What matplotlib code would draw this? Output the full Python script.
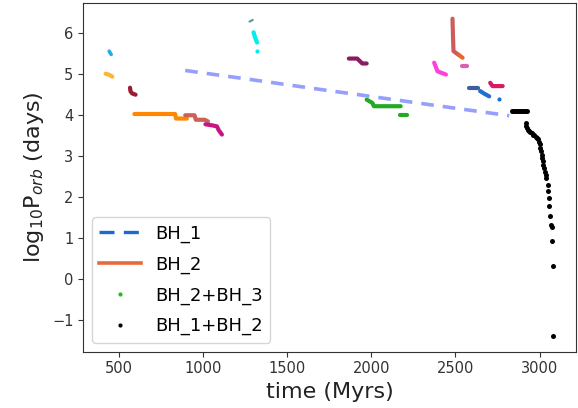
import matplotlib
matplotlib.use('Agg')
import matplotlib.pyplot as plt
from matplotlib.lines import Line2D

# ---- data (time in Myr, log10 P_orb in days) ----
# BH_1 + companion, long dashed track
bh1_t = [895, 1300, 1729, 1908, 2414, 2820]
bh1_p = [5.08, 4.85, 4.60, 4.50, 4.21, 3.98]

# short coloured pieces
sky_t = [443, 455]
sky_p = [5.55, 5.47]

gold_t = [422, 440, 462]
gold_p = [5.00, 4.98, 4.93]

darkred_t = [567, 570, 580, 600]
darkred_p = [4.66, 4.57, 4.52, 4.49]

orange_t = [593, 700, 800, 835, 840, 905]
orange_p = [4.02, 4.02, 4.02, 4.02, 3.91, 3.91]

brown_t = [895, 950, 958, 1010, 1030]
brown_p = [3.99, 3.99, 3.88, 3.88, 3.84]

violet_t = [1015, 1060, 1083, 1095, 1113]
violet_p = [3.77, 3.74, 3.72, 3.62, 3.52]

teal_t = [1277, 1296]
teal_p = [6.27, 6.31]

cyan_t = [1301, 1310, 1322]
cyan_p = [6.01, 5.88, 5.76]
cyan_dot_t = [1322]
cyan_dot_p = [5.55]

purple_t = [1867, 1917, 1947, 1973]
purple_p = [5.37, 5.37, 5.25, 5.25]

green_t = [1973, 2007, 2016, 2100, 2175]
green_p = [4.37, 4.29, 4.21, 4.21, 4.21]
green2_t = [2170, 2212]
green2_p = [3.99, 3.99]

pink_t = [2374, 2394, 2444]
pink_p = [5.27, 5.06, 4.98]

salmon_t = [2483, 2486, 2489, 2523]
salmon_p = [6.34, 5.90, 5.55, 5.45]
tomato_t = [2523, 2543]
tomato_p = [5.45, 5.39]

orchid_t = [2537, 2572]
orchid_p = [5.19, 5.19]

slate_t = [2582, 2636]
slate_p = [4.66, 4.66]

blue_t = [2647, 2670, 2701]
blue_p = [4.58, 4.52, 4.45]
blue_dot_t = [2760]
blue_dot_p = [4.39]

crimson_t = [2707, 2721, 2781]
crimson_p = [4.78, 4.70, 4.70]

# BH_1 + BH_2 binary
bh12_t = [2835, 2845, 2855, 2865, 2875, 2885, 2895, 2905, 2915, 2924,
          2919, 2921, 2926, 2932, 2938, 2945, 2953, 2961, 2969, 2978,
          2987, 2993, 2996, 3001, 3005, 3009, 3012, 3015, 3019, 3023,
          3028, 3033, 3037, 3041, 3049, 3052, 3057, 3058, 3064, 3068,
          3076, 3072, 3082, 3082]
bh12_p = [4.09, 4.09, 4.09, 4.09, 4.09, 4.09, 4.09, 4.09, 4.09, 4.09,
          3.80, 3.74, 3.68, 3.64, 3.61, 3.58, 3.55, 3.52, 3.50, 3.47,
          3.44, 3.41, 3.35, 3.28, 3.20, 3.11, 3.03, 2.95, 2.87, 2.79,
          2.70, 2.62, 2.54, 2.46, 2.30, 2.14, 1.98, 1.77, 1.53, 1.32,
          1.26, 0.94, 0.31, -1.38]

# pieces drawn as thick lines, with their colours
pieces = [
    (sky_t, sky_p, '#29abe2', 2.6),
    (gold_t, gold_p, '#fbb731', 3),
    (darkred_t, darkred_p, '#9b1b30', 3),
    (orange_t, orange_p, '#ff8800', 3),
    (brown_t, brown_p, '#cd6155', 3),
    (violet_t, violet_p, '#c71585', 3),
    (teal_t, teal_p, '#5f9ea0', 1.6),
    (cyan_t, cyan_p, '#00eeee', 3),
    (purple_t, purple_p, '#8b1c62', 3),
    (green_t, green_p, '#22aa22', 3),
    (green2_t, green2_p, '#22aa22', 3),
    (pink_t, pink_p, '#ff40dd', 3),
    (salmon_t, salmon_p, '#cd5c5c', 3),
    (tomato_t, tomato_p, '#e8682a', 3),
    (orchid_t, orchid_p, '#d862b0', 3),
    (slate_t, slate_p, '#3f5e9e', 3),
    (blue_t, blue_p, '#1e6fd0', 3),
    (crimson_t, crimson_p, '#d81b60', 3),
]
dots = [
    (cyan_dot_t, cyan_dot_p, '#00eeee'),
    (blue_dot_t, blue_dot_p, '#1e6fd0'),
]

fig = plt.figure(figsize=(5.78, 4.08), dpi=100)
ax = fig.add_axes([0.144, 0.138, 0.852, 0.855])

ax.plot(bh1_t, bh1_p, color='#96a0fa', lw=2.6, dashes=(3.5, 2.5))
for t, p, c, w in pieces:
    ax.plot(t, p, color=c, lw=w, solid_capstyle='round', solid_joinstyle='round')
for t, p, c in dots:
    ax.plot(t, p, 'o', color=c, ms=3, mew=0)
ax.plot(bh12_t, bh12_p, 'o', color='k', ms=3.6, mew=0)

# legend proxies
handles = [
    Line2D([], [], color='#1a6ad6', lw=2.4, dashes=(4.5, 2.8)),
    Line2D([], [], color='#e8693e', lw=2.6),
    Line2D([], [], ls='', marker='.', ms=4, color='#22bb22'),
    Line2D([], [], ls='', marker='.', ms=4, color='k'),
]
labels = ['BH_1', 'BH_2', 'BH_2+BH_3', 'BH_1+BH_2']
ax.legend(handles, labels, loc='lower left', fontsize=13, handlelength=2.3,
          labelspacing=0.7)

ax.set_xlabel('time (Myrs)', fontsize=16, color='#222222')
ax.set_ylabel(r'log$_{10}$P$_{orb}$ (days)', fontsize=16, color='#222222')
ax.set_xticks([500, 1000, 1500, 2000, 2500, 3000])
ax.set_yticks([-1, 0, 1, 2, 3, 4, 5, 6])
ax.tick_params(labelsize=10.5, colors='#333333')
for s in ax.spines.values():
    s.set_color('#333333')

fig.savefig('out.png', dpi=100)
